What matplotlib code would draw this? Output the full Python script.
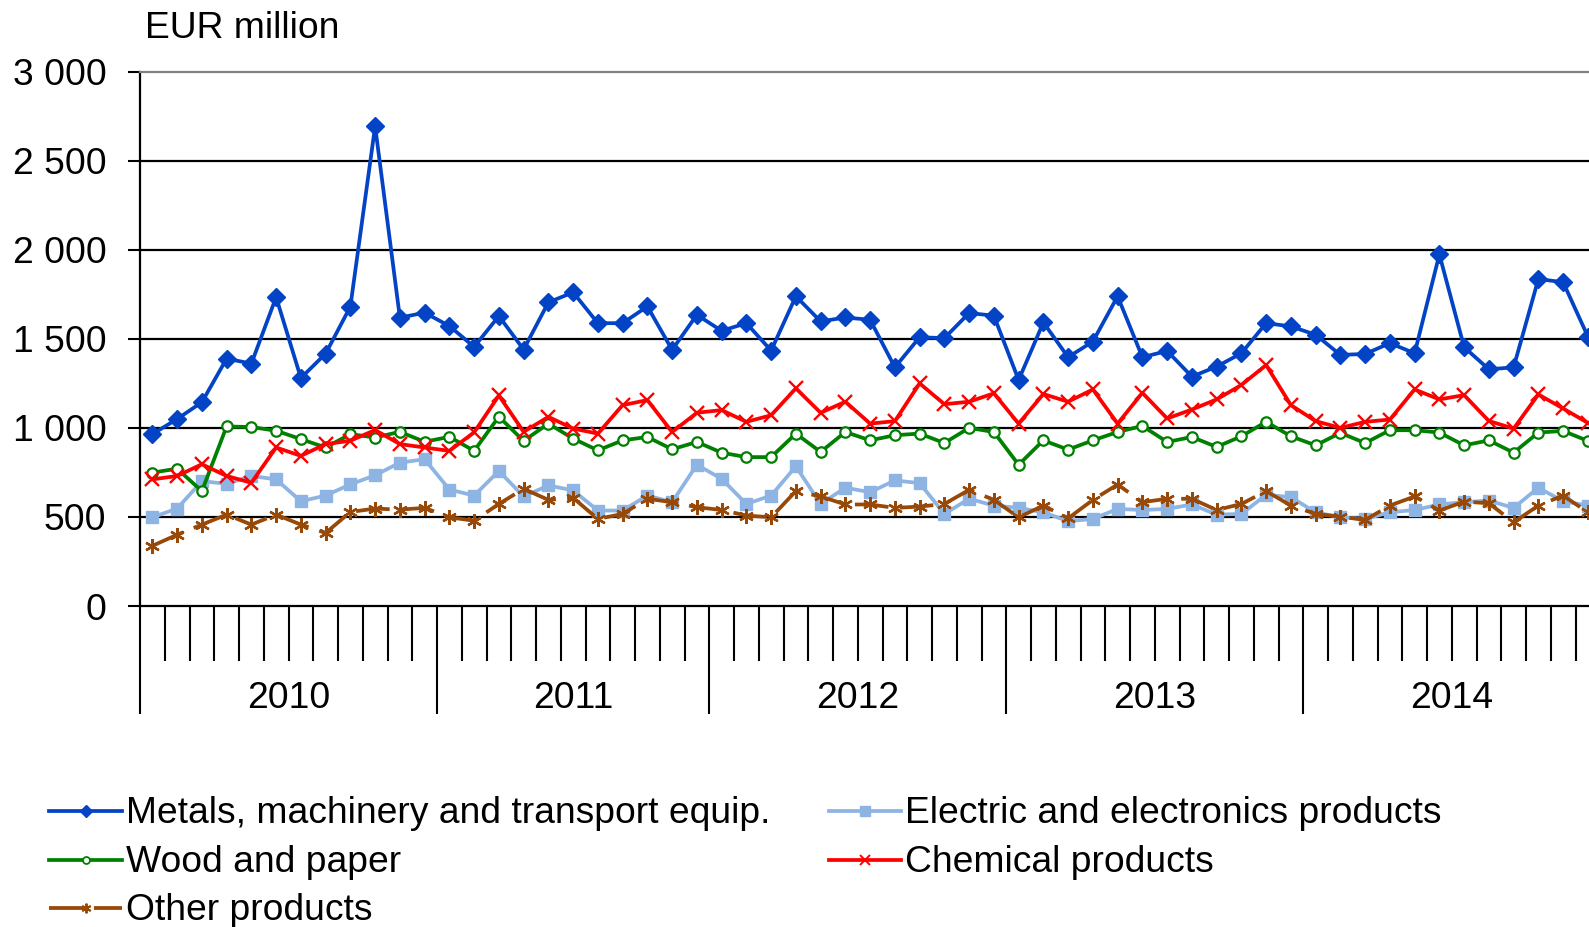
import matplotlib
matplotlib.use("Agg")
import matplotlib.pyplot as plt
from matplotlib.lines import Line2D
import matplotlib.transforms as mtransforms
import numpy as np

plt.rcParams['font.family'] = ['Liberation Sans', 'DejaVu Sans']

# ---------------- data ----------------
years = ["2010", "2011", "2012", "2013", "2014"]
months_per_year = [12, 11, 12, 12, 12]

metals = [965, 1050, 1144, 1389, 1361, 1734, 1280, 1417, 1681, 2694, 1619, 1647,
          1572, 1455, 1628, 1440, 1705, 1761, 1588, 1588, 1682, 1438, 1635,
          1545, 1588, 1434, 1739, 1598, 1620, 1607, 1340, 1509, 1504, 1645, 1630,
          1269, 1592, 1397, 1485, 1739, 1397, 1432, 1288, 1344, 1419, 1588, 1570,
          1523, 1410, 1415, 1476, 1419, 1974, 1453, 1329, 1340, 1836, 1818, 1513]
electric = [498, 547, 701, 686, 730, 711, 588, 620, 683, 734, 805, 824,
            654, 620, 758, 615, 677, 649, 536, 536, 620, 583, 793,
            714, 573, 620, 784, 573, 664, 639, 705, 690, 517, 602, 564,
            551, 526, 476, 489, 545, 539, 545, 570, 513, 517, 624, 611,
            526, 498, 489, 526, 539, 570, 583, 592, 551, 664, 588, 564]
wood = [749, 771, 645, 1008, 1005, 984, 937, 890, 965, 946, 978, 922,
        950, 871, 1063, 927, 1024, 940, 874, 930, 949, 880, 921,
        861, 836, 836, 968, 865, 977, 930, 959, 968, 915, 1000, 977,
        793, 930, 878, 930, 977, 1011, 921, 949, 893, 953, 1034, 953,
        902, 972, 915, 987, 987, 974, 902, 930, 861, 974, 983, 927]
chemical = [711, 730, 796, 730, 692, 890, 843, 909, 928, 988, 909, 890,
            871, 975, 1182, 978, 1062, 996, 968, 1128, 1156, 977, 1085,
            1100, 1034, 1071, 1222, 1085, 1147, 1024, 1038, 1250, 1133, 1147, 1194,
            1024, 1190, 1147, 1216, 1024, 1197, 1053, 1103, 1160, 1241, 1353, 1128,
            1038, 1000, 1034, 1047, 1216, 1160, 1184, 1039, 996, 1188, 1109, 1028]
other = [338, 400, 457, 513, 457, 513, 457, 410, 528, 547, 541, 551,
         498, 479, 573, 658, 596, 607, 489, 517, 602, 583, 555,
         539, 508, 498, 645, 615, 570, 570, 551, 558, 573, 652, 596,
         498, 564, 492, 596, 682, 583, 602, 602, 539, 573, 645, 564,
         517, 502, 483, 564, 615, 536, 586, 577, 470, 564, 620, 526]

series_labels = ["Metals, machinery and transport equip.",
                 "Electric and electronics products",
                 "Wood and paper",
                 "Chemical products",
                 "Other products"]

y_ticks = [0, 500, 1000, 1500, 2000, 2500, 3000]
y_tick_labels = ["0", "500", "1 000", "1 500", "2 000", "2 500", "3 000"]
y_unit = "EUR million"

# ---------------- styles ----------------
C_BLUE = "#0343C6"
C_LBLUE = "#8DB4E2"
C_GREEN = "#008000"
C_RED = "#FF0000"
C_BROWN = "#984807"
FS = 26.8
LW = 2.7
star = (6, 2, 0)

W, H = 1589, 927
fig = plt.figure(figsize=(W / 100, H / 100), dpi=100)

left_px, spacing = 140.0, 24.75
n = len(metals)
ax_w = n * spacing
ax_top, ax_bot = 71.7, 606.0
ax = fig.add_axes([left_px / W, (H - ax_bot) / H, ax_w / W, (ax_bot - ax_top) / H])

x = np.arange(n)
ax.set_xlim(-0.5, n - 0.5)
ax.set_ylim(0, 3000)

# gridlines
for yt in y_ticks[1:-1]:
    ax.axhline(yt, color="black", lw=1.6, zorder=1)

ax.plot(x, metals, color=C_BLUE, lw=LW, marker="D", ms=9.5, mfc=C_BLUE, mec=C_BLUE,
        zorder=3, clip_on=False)
ax.plot(x, electric, color=C_LBLUE, lw=LW, marker="s", ms=8.2, mfc=C_LBLUE, mec=C_LBLUE,
        zorder=3, clip_on=False)
ax.plot(x, wood, color=C_GREEN, lw=LW, marker="o", ms=7.5, mfc="white", mec=C_GREEN,
        mew=1.6, zorder=4, clip_on=False)
ax.plot(x, chemical, color=C_RED, lw=LW, marker="x", ms=10.5, mec=C_RED, mew=1.7,
        zorder=5, clip_on=False)
ax.plot(x, other, color=C_BROWN, lw=LW, ls=(0, (9, 3)), marker=star, ms=10.5,
        mec=C_BROWN, mew=1.7, zorder=6, clip_on=False)

# spines
ax.spines["right"].set_visible(False)
ax.spines["top"].set_color("#808080")
ax.spines["top"].set_linewidth(1.6)
ax.spines["left"].set_linewidth(1.6)
ax.spines["bottom"].set_linewidth(1.6)

# y axis
ax.set_yticks(y_ticks)
ax.set_yticklabels(y_tick_labels)
ax.tick_params(axis="y", direction="out", length=8.6, width=1.5, pad=15.5, labelsize=FS)

# x axis: category boundaries
bounds = np.cumsum([0] + months_per_year) - 0.5
major = list(bounds)
minor = [b for b in np.arange(-0.5, n, 1.0) if b not in major]
ax.set_xticks(major)
ax.set_xticks(minor, minor=True)
ax.set_xticklabels([])
ax.tick_params(axis="x", which="major", direction="out", length=78, width=1.5)
ax.tick_params(axis="x", which="minor", direction="out", length=39.6, width=1.5)

# year labels
trans = mtransforms.blended_transform_factory(ax.transData, fig.transFigure)
for i, yr in enumerate(years):
    cx = (bounds[i] + bounds[i + 1]) / 2
    ax.text(cx, 1 - 708 / H, yr, transform=trans, ha="center", va="baseline",
            fontsize=FS, clip_on=False)

fig.text(145 / W, 1 - 38 / H, y_unit, fontsize=FS, ha="left", va="baseline")

# legend (manual)
entries = [
    (0, 0, series_labels[0], dict(color=C_BLUE, marker="D", ms=6.5, mfc=C_BLUE, mec=C_BLUE)),
    (1, 0, series_labels[1], dict(color=C_LBLUE, marker="s", ms=6.5, mfc=C_LBLUE, mec=C_LBLUE)),
    (0, 1, series_labels[2], dict(color=C_GREEN, marker="o", ms=5, mfc="white", mec=C_GREEN, mew=1.3)),
    (1, 1, series_labels[3], dict(color=C_RED, marker="x", ms=6.5, mec=C_RED, mew=1.4)),
    (0, 2, series_labels[4], dict(color=C_BROWN, marker=star, ms=7, mec=C_BROWN, mew=1.4,
                                  ls=(0, (9.5, 2.5)))),
]
col_x = [(49, 122, 126), (829, 901, 905)]
row_base = [823, 871.5, 920]
for col, row, lab, st in entries:
    x0, x1, xt = col_x[col]
    yb = row_base[row]
    yl = yb - 12
    ln = Line2D([x0 / W, (x0 + x1) / 2 / W, x1 / W], [1 - yl / H] * 3, transform=fig.transFigure,
                lw=LW, markevery=[1], **st)
    fig.add_artist(ln)
    fig.text(xt / W, 1 - yb / H, lab, fontsize=FS, ha="left", va="baseline")

fig.savefig("out.png", dpi=100)
